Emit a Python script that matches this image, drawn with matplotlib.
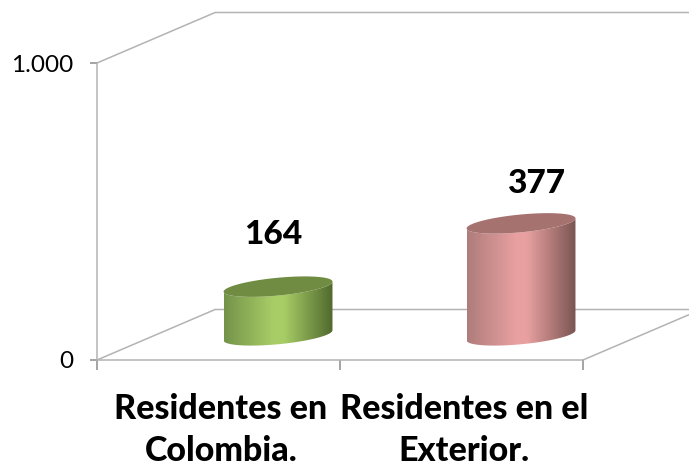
"""Two 3D looking cylinders: residentes en Colombia y en el exterior."""

import numpy as np
import matplotlib
matplotlib.use("Agg")
import matplotlib.pyplot as plt
from matplotlib.colors import LinearSegmentedColormap
from matplotlib.patches import PathPatch, Polygon
from matplotlib.path import Path

categories = ["Residentes en\nColombia.", "Residentes en el\nExterior."]
values = [164, 377]
y_ticks = [0, 1000]
y_tick_labels = ["0", "1.000"]

# fake 3D settings, in data units
DEPTH_X = 0.486
DEPTH_Y = 170
BAR_SHIFT = 0.245
BAR_HALF = 0.224
BAR_BASE = 83
ELL_B = 30
ELL_TILT = 17
LINE = "#B3B3B3"

side_colors = [["#74934A", "#A8CD66", "#A8CD66", "#50692D"],
               ["#AE7D7B", "#E8A0A0", "#E8A0A0", "#7A5552"]]
top_colors = ["#708C42", "#A67270"]
label_offsets = [258, 218]
label_shift = [-0.02, 0.06]

plt.rcParams["font.family"] = ["Lato", "DejaVu Sans"]


def ell_y(center, t):
    return center + ELL_B * np.sin(t) + ELL_TILT * np.cos(t)


def draw_cylinder(ax, cx, value, colors, top_color):
    """Draws one cylinder, gradient body first and then the top ellipse."""
    bottom = BAR_BASE
    top = BAR_BASE + value
    t = np.linspace(np.pi, 2 * np.pi, 60)
    xs = cx + BAR_HALF * np.cos(t)
    body = np.vstack([
        np.column_stack([xs, ell_y(bottom, t)]),
        np.column_stack([xs[::-1], ell_y(top, t[::-1])]),
    ])
    cmap = LinearSegmentedColormap.from_list(
        "side", list(zip([0, 0.45, 0.55, 1], colors)))
    img = ax.imshow(np.linspace(0, 1, 256).reshape(1, -1), cmap=cmap, aspect="auto",
                    extent=[cx - BAR_HALF, cx + BAR_HALF, 0, 1000], zorder=3)
    clip = PathPatch(Path(body), transform=ax.transData, fc="none", ec="none")
    ax.add_patch(clip)
    img.set_clip_path(clip)

    t = np.linspace(0, 2 * np.pi, 120)
    ellipse = np.column_stack([cx + BAR_HALF * np.cos(t), ell_y(top, t)])
    ax.add_patch(Polygon(ellipse, closed=True, fc=top_color, ec="none", zorder=4))


fig = plt.figure(figsize=(6.89, 4.66), dpi=100)
ax = fig.add_axes([97 / 689, 106 / 466, 486 / 689, 297 / 466])
n = len(categories)

# walls and floor of the 3D box
wall_x = [[0, DEPTH_X, n + DEPTH_X], [0, DEPTH_X, n + DEPTH_X], [n, n + DEPTH_X]]
wall_y = [[1000, 1000 + DEPTH_Y, 1000 + DEPTH_Y], [0, DEPTH_Y, DEPTH_Y], [0, DEPTH_Y]]
for xs, ys in zip(wall_x, wall_y):
    ax.plot(xs, ys, color=LINE, lw=1.1, clip_on=False, zorder=1)

for i in range(n):
    draw_cylinder(ax, i + 0.5 + BAR_SHIFT, values[i], side_colors[i], top_colors[i])
    ax.text(i + 0.5 + BAR_SHIFT + label_shift[i], values[i] + label_offsets[i], str(values[i]),
            ha="center", va="center", fontsize=24, fontweight="black", color="black")

ax.set_xlim(0, n)
ax.set_ylim(0, 1000)
ax.patch.set_visible(False)
for side in ["top", "right"]:
    ax.spines[side].set_visible(False)
for side in ["left", "bottom"]:
    ax.spines[side].set_color(LINE)
    ax.spines[side].set_linewidth(1.1)

ax.set_yticks(y_ticks)
ax.set_yticklabels(y_tick_labels, fontsize=17.5)
ax.tick_params(axis="y", length=5, width=1.1, color="#8C8C8C", pad=12)
ax.set_xticks(np.arange(n + 1))
ax.set_xticklabels([])
ax.tick_params(axis="x", length=7, width=1.1, color="#8C8C8C")
ax.set_xticks(np.arange(n) + 0.51, minor=True)
ax.set_xticklabels(categories, minor=True, fontsize=24.5, fontweight="black", linespacing=1.38)
ax.tick_params(axis="x", which="minor", length=0, pad=24)

fig.savefig("out.png", dpi=100)
